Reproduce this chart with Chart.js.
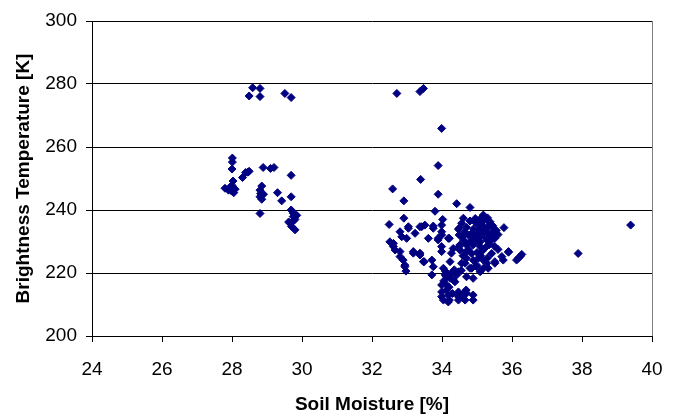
<!DOCTYPE html>
<html>
<head>
<meta charset="utf-8">
<title>Brightness Temperature vs Soil Moisture</title>
<script src="https://cdn.jsdelivr.net/npm/chart.js@4.4.0/dist/chart.umd.min.js"></script>
<style>
  body { margin: 0; background: #fff; }
</style>
</head>
<body>
<canvas id="myChart" width="680" height="417"></canvas>
<script>
// tick labels
const xTicks = [24, 26, 28, 30, 32, 34, 36, 38, 40];
const yTicks = [200, 220, 240, 260, 280, 300];

// [soil moisture %, brightness temperature K]
const dryPoints = [
  [28.49, 276.2], [28.59, 278.8], [28.8, 278.6], [28.8, 276.0], [29.51, 277.0], [29.69, 275.7],
  [28.01, 256.5], [28.01, 255.2], [28.0, 253.0], [28.03, 249.2], [27.8, 246.9], [27.9, 246.3],
  [27.99, 246.0], [28.09, 246.6], [28.0, 247.8], [28.05, 245.5], [27.95, 247.3],
  [28.3, 250.3], [28.39, 251.9], [28.49, 252.3], [28.45, 252.0],
  [28.89, 253.5], [29.1, 253.2], [29.2, 253.5], [29.69, 251.0],
  [28.85, 247.6], [28.8, 246.3], [28.82, 245.2], [28.8, 244.2], [28.85, 243.4], [28.9, 245.0],
  [29.3, 245.5], [29.42, 242.9], [29.69, 244.2], [28.8, 238.9],
  [29.69, 240.0], [29.75, 239.0], [29.75, 237.9], [29.8, 237.0], [29.66, 235.8], [29.7, 234.8],
  [29.8, 233.7], [29.75, 236.5], [29.62, 236.2], [29.85, 238.3]
];

const wetOutliers = [
  [32.71, 277.0], [33.37, 277.6], [33.47, 278.6], [33.99, 265.9], [33.89, 254.1], [33.39, 249.7],
  [32.59, 246.7], [32.91, 242.9], [33.89, 245.0], [34.42, 242.0], [34.8, 240.8], [33.8, 239.6],
  [32.49, 235.4], [32.91, 237.4], [34.02, 237.0], [35.2, 238.1], [35.77, 234.4], [39.39, 235.2],
  [37.89, 226.2], [36.28, 225.9], [36.18, 224.7], [35.9, 226.6], [35.75, 224.1], [35.51, 223.6],
  [35.42, 226.2]
];

const wetPoints = [
  [32.51, 229.9], [32.61, 228.4], [32.8, 233.1], [32.8, 226.8], [32.89, 224.1], [32.94, 222.0],
  [32.99, 231.0], [33.04, 234.7], [33.23, 232.6], [33.37, 234.7], [33.51, 235.2], [33.75, 234.9],
  [33.61, 231.0], [33.89, 231.0], [33.99, 233.1], [34.18, 231.0], [33.99, 228.4], [34.32, 227.8],
  [33.18, 226.8], [33.37, 226.3], [33.47, 223.6], [33.71, 224.1], [33.75, 222.0], [33.71, 219.4],
  [34.23, 223.6], [34.04, 221.5], [34.13, 218.8], [33.99, 216.2], [34.13, 214.6], [33.99, 212.5],
  [34.21, 211.4], [34.18, 213.0], [34.47, 212.5], [34.56, 213.0], [34.69, 214.6], [34.89, 213.0],
  [34.32, 217.8], [34.47, 220.4], [34.7, 218.8], [34.89, 218.3], [34.85, 221.5], [34.99, 222.0],
  [35.18, 221.5], [35.28, 223.1], [35.04, 224.7], [34.7, 224.7], [34.56, 223.1], [34.51, 227.3],
  [34.7, 228.9], [34.61, 230.5], [34.47, 233.9], [34.61, 237.4],
  [32.85, 231.5], [32.61, 229.4], [32.66, 227.3], [32.8, 225.2], [32.94, 222.5], [32.97, 220.6],
  [33.04, 234.2], [33.18, 226.3], [33.37, 225.7], [33.49, 223.6], [33.42, 234.7], [33.75, 234.2],
  [33.99, 235.2], [33.99, 232.1], [33.89, 230.5], [34.21, 231.0], [33.99, 226.8], [34.27, 226.3],
  [34.49, 232.1], [34.56, 235.8], [34.49, 228.4]
];

const wetLow = [
  [33.99, 214.0], [34.04, 211.4], [34.18, 210.8], [34.13, 216.2], [34.23, 218.3], [34.09, 219.4],
  [34.37, 217.2], [34.47, 214.0], [34.47, 211.4], [34.66, 211.4], [34.7, 213.6], [34.89, 211.4],
  [34.42, 219.4], [34.66, 214.0], [34.51, 212.5], [34.1, 220.5], [34.2, 215.5], [34.3, 213.5],
  [34.05, 217.5], [34.35, 221.0], [34.25, 219.8]
];

const wetDense = [
  [34.99, 235.8], [35.18, 234.7], [35.37, 235.8], [35.47, 233.1], [35.51, 231.0], [35.28, 230.5],
  [35.09, 228.4], [34.85, 232.6], [34.8, 229.9], [35.18, 238.4], [34.94, 236.3], [34.49, 234.2],
  [34.75, 232.1], [35.37, 236.3], [35.47, 234.2], [35.51, 231.5], [35.28, 231.0], [35.09, 229.9],
  [34.89, 228.9], [34.7, 229.4], [34.51, 228.9],
  [34.7, 234.5], [34.8, 236.5], [34.9, 234.0], [35.0, 232.5], [35.1, 231.5], [35.2, 233.0],
  [35.3, 234.5], [35.4, 232.0], [35.0, 230.0], [34.9, 231.2], [35.2, 236.8], [35.1, 237.2],
  [35.3, 237.5], [35.45, 235.0], [35.55, 233.5], [35.6, 232.2], [35.35, 229.0], [35.15, 227.0],
  [35.0, 226.5], [34.85, 226.2], [34.7, 226.8], [34.6, 225.5], [34.75, 227.5], [35.05, 233.8],
  [34.95, 237.3], [35.25, 228.2], [35.4, 230.3], [34.65, 232.9], [34.58, 231.5], [35.12, 235.5],
  [35.32, 232.8]
];

const wetDiagonal = [
  [35.9, 226.8], [35.71, 225.2], [35.51, 223.1], [35.18, 224.1], [34.99, 222.5], [34.8, 221.5],
  [34.66, 223.1], [36.23, 225.2], [36.13, 224.1], [35.32, 221.5], [35.09, 220.4], [34.55, 220.8],
  [34.9, 224.0], [35.1, 225.5], [35.3, 224.8], [35.6, 227.5], [35.5, 228.5]
];

const allPoints = [...dryPoints, ...wetOutliers, ...wetPoints, ...wetLow, ...wetDense, ...wetDiagonal];

const FONT = '"Liberation Sans", Arial, sans-serif';

// gray frame line on the right side of the plot
const rightBorder = {
  id: 'rightBorder',
  afterDraw(chart) {
    const {ctx, chartArea} = chart;
    ctx.save();
    ctx.strokeStyle = '#808080';
    ctx.lineWidth = 1;
    ctx.beginPath();
    ctx.moveTo(Math.round(chartArea.right) + 0.5, chartArea.top);
    ctx.lineTo(Math.round(chartArea.right) + 0.5, chartArea.bottom);
    ctx.stroke();
    ctx.restore();
  }
};

new Chart(document.getElementById('myChart').getContext('2d'), {
  type: 'scatter',
  data: {
    datasets: [
      {
        label: 'Brightness Temperature',
        data: allPoints.map(([x, y]) => ({x, y})),
        pointStyle: 'rectRot',
        pointRadius: 4,
        borderWidth: 1,
        backgroundColor: '#000080',
        borderColor: '#000080',
      },
    ],
  },
  options: {
    responsive: false,
    animation: false,
    events: [],
    layout: {padding: {top: 21, right: 28, left: 0, bottom: 0}},
    plugins: {
      legend: {display: false},
      tooltip: {enabled: false},
    },
    scales: {
      x: {
        type: 'linear',
        min: xTicks[0],
        max: xTicks[xTicks.length - 1],
        afterBuildTicks: (scale) => { scale.ticks = xTicks.map((v) => ({value: v})); },
        afterFit: (scale) => { scale.height = 81; },
        ticks: {color: '#000', font: {family: FONT, size: 19}, padding: 16},
        grid: {drawOnChartArea: false, color: '#000', tickLength: 6},
        border: {color: '#000'},
        title: {
          display: true,
          text: 'Soil Moisture [%]',
          color: '#000',
          font: {family: FONT, size: 19, weight: 'bold'},
          padding: {top: 0, bottom: 1},
        },
      },
      y: {
        type: 'linear',
        min: yTicks[0],
        max: yTicks[yTicks.length - 1],
        afterBuildTicks: (scale) => { scale.ticks = yTicks.map((v) => ({value: v})); },
        afterFit: (scale) => { scale.width = 92; },
        ticks: {color: '#000', font: {family: FONT, size: 19}, padding: 9},
        grid: {color: '#000', tickLength: 6},
        border: {color: '#000'},
        title: {
          display: true,
          text: 'Brightness Temperature [K]',
          color: '#000',
          font: {family: FONT, size: 19, weight: 'bold'},
          padding: {top: 12, bottom: 0},
        },
      },
    },
  },
  plugins: [rightBorder],
});
</script>
</body>
</html>
